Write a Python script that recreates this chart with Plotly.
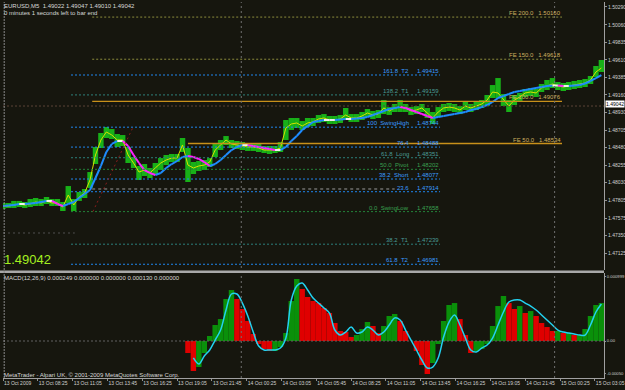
import plotly.graph_objects as go

# ---------------- data ----------------
bar_index = list(range(0, 551, 5))  # M5 bar number counted from 13 Oct 05:45
close = [1.47730, 1.47730, 1.47743, 1.47756, 1.47743, 1.47756, 1.47782, 1.47769, 1.47795, 1.47769,
         1.47769, 1.47717, 1.47872, 1.47743, 1.47846, 1.47897, 1.48065, 1.48386, 1.48579, 1.48682,
         1.48643, 1.48579, 1.48579, 1.48386, 1.48283, 1.48167, 1.48193, 1.48155, 1.48219, 1.48283,
         1.48322, 1.48347, 1.48347, 1.48515, 1.48257, 1.48219, 1.48245, 1.48257, 1.48296, 1.48450,
         1.48515, 1.48579, 1.48528, 1.48515, 1.48502, 1.48489, 1.48489, 1.48476, 1.48450, 1.48450,
         1.48450, 1.48476, 1.48733, 1.48785, 1.48798, 1.48759, 1.48798, 1.48811, 1.48849, 1.48862,
         1.48836, 1.48836, 1.48849, 1.48901, 1.48862, 1.48862, 1.48888, 1.48926, 1.48901, 1.48913,
         1.48991, 1.48952, 1.48991, 1.49003, 1.48991, 1.48952, 1.48965, 1.48991, 1.48926, 1.48862,
         1.48939, 1.48991, 1.49003, 1.48991, 1.48965, 1.49016, 1.48991, 1.49016, 1.49042, 1.49093,
         1.49196, 1.49184, 1.49093, 1.49016, 1.49093, 1.49132, 1.49184, 1.49196, 1.49184, 1.49248,
         1.49274, 1.49299, 1.49274, 1.49261, 1.49274, 1.49286, 1.49299, 1.49312, 1.49351, 1.49454,
         1.49505]
high = [1.47769, 1.47769, 1.47795, 1.47795, 1.47782, 1.47820, 1.47833, 1.47820, 1.47846, 1.47820,
        1.47820, 1.47782, 1.47987, 1.47820, 1.47910, 1.47949, 1.48167, 1.48489, 1.48669, 1.48746,
        1.48720, 1.48656, 1.48643, 1.48489, 1.48360, 1.48245, 1.48270, 1.48219, 1.48283, 1.48347,
        1.48386, 1.48399, 1.48399, 1.48605, 1.48476, 1.48296, 1.48309, 1.48322, 1.48347, 1.48540,
        1.48579, 1.48630, 1.48579, 1.48566, 1.48553, 1.48540, 1.48540, 1.48528, 1.48502, 1.48502,
        1.48502, 1.48553, 1.48836, 1.48862, 1.48862, 1.48823, 1.48862, 1.48862, 1.48901, 1.48913,
        1.48888, 1.48888, 1.48901, 1.48991, 1.48913, 1.48913, 1.48939, 1.48978, 1.48952, 1.48965,
        1.49093, 1.49003, 1.49042, 1.49093, 1.49042, 1.49003, 1.49016, 1.49042, 1.48991, 1.48939,
        1.49003, 1.49042, 1.49055, 1.49042, 1.49016, 1.49068, 1.49042, 1.49068, 1.49093, 1.49158,
        1.49286, 1.49376, 1.49171, 1.49093, 1.49158, 1.49184, 1.49235, 1.49248, 1.49235, 1.49299,
        1.49351, 1.49376, 1.49325, 1.49312, 1.49325, 1.49338, 1.49351, 1.49364, 1.49402, 1.49531,
        1.49608]
low = [1.47692, 1.47705, 1.47705, 1.47717, 1.47705, 1.47717, 1.47730, 1.47730, 1.47756, 1.47730,
       1.47730, 1.47666, 1.47769, 1.47666, 1.47795, 1.47833, 1.47962, 1.48270, 1.48476, 1.48605,
       1.48592, 1.48489, 1.48502, 1.48283, 1.48219, 1.48065, 1.48116, 1.48090, 1.48142, 1.48193,
       1.48257, 1.48296, 1.48296, 1.48425, 1.48039, 1.48142, 1.48180, 1.48193, 1.48232, 1.48360,
       1.48450, 1.48515, 1.48476, 1.48463, 1.48450, 1.48438, 1.48438, 1.48425, 1.48412, 1.48399,
       1.48412, 1.48425, 1.48579, 1.48708, 1.48733, 1.48708, 1.48746, 1.48759, 1.48798, 1.48811,
       1.48785, 1.48785, 1.48798, 1.48836, 1.48811, 1.48811, 1.48836, 1.48875, 1.48849, 1.48862,
       1.48913, 1.48901, 1.48939, 1.48939, 1.48939, 1.48901, 1.48913, 1.48939, 1.48862, 1.48785,
       1.48875, 1.48939, 1.48952, 1.48939, 1.48913, 1.48965, 1.48939, 1.48965, 1.48991, 1.49016,
       1.49119, 1.49119, 1.49016, 1.48939, 1.49029, 1.49081, 1.49132, 1.49145, 1.49132, 1.49196,
       1.49222, 1.49248, 1.49222, 1.49209, 1.49222, 1.49235, 1.49248, 1.49261, 1.49299, 1.49389,
       1.49454]
slow_ma = [1.47730, 1.47736, 1.47743, 1.47756, 1.47756, 1.47762, 1.47769, 1.47782, 1.47795, 1.47795,
           1.47756, 1.47730, 1.47756, 1.47782, 1.47833, 1.47885, 1.47936, 1.48090, 1.48245, 1.48425,
           1.48528, 1.48566, 1.48566, 1.48502, 1.48386, 1.48283, 1.48193, 1.48155, 1.48129, 1.48155,
           1.48219, 1.48270, 1.48309, 1.48360, 1.48373, 1.48360, 1.48335, 1.48296, 1.48245, 1.48270,
           1.48322, 1.48386, 1.48450, 1.48489, 1.48515, 1.48515, 1.48502, 1.48489, 1.48476, 1.48463,
           1.48450, 1.48450, 1.48489, 1.48566, 1.48630, 1.48708, 1.48759, 1.48811, 1.48823, 1.48836,
           1.48836, 1.48836, 1.48843, 1.48849, 1.48849, 1.48856, 1.48862, 1.48875, 1.48901, 1.48926,
           1.48952, 1.48978, 1.48991, 1.49003, 1.48991, 1.48965, 1.48939, 1.48913, 1.48888, 1.48862,
           1.48875, 1.48888, 1.48901, 1.48913, 1.48926, 1.48939, 1.48965, 1.48978, 1.49003, 1.49029,
           1.49068, 1.49119, 1.49145, 1.49171, 1.49196, 1.49209, 1.49222, 1.49235, 1.49248, 1.49261,
           1.49274, 1.49280, 1.49280, 1.49274, 1.49274, 1.49280, 1.49286, 1.49306, 1.49338, 1.49376,
           1.49415]

macd_index = list(range(170, 551, 5))
macd_hist = [-0.000185, -0.000461, -0.000400, -0.000185, 0.000077, 0.000246, 0.000338, 0.000646, 0.000784, 0.000646,
             0.000492, 0.000308, 0.000108, -0.000046, -0.000123, -0.000154, -0.000154, -0.000092, 0.000123, 0.000615,
             0.000954, 0.000800, 0.000677, 0.000615, 0.000584, 0.000508, 0.000431, 0.000277, 0.000154, 0.000138,
             0.000062, 0.000092, 0.000185, 0.000292, 0.000231, 0.000123, 0.000231, 0.000385, 0.000415, 0.000308,
             0.000154, 0.0, -0.000154, -0.000369, -0.000508, -0.000338, -0.000046, 0.000308, 0.000554, 0.000584,
             0.000338, 0.000092, -0.000185, -0.000154, -0.000123, -0.000046, 0.000231, 0.000538, 0.000692, 0.000584,
             0.000492, 0.000538, 0.000431, 0.000461, 0.000385, 0.000277, 0.000215, 0.000154, 0.000154, 0.000123,
             0.000123, 0.000092, 0.000092, 0.000185, 0.000385, 0.000554, 0.000584]
signal_index = list(range(175, 551, 5))
macd_signal = [-0.000261, -0.000354, -0.000231, -0.000138, 0.000015, 0.000169, 0.000477, 0.000723, 0.000723, 0.000584,
               0.000385, 0.000138, -0.000077, -0.000138, -0.000138, -0.000138, -0.000108, 0.000046, 0.000631, 0.000846,
               0.000892, 0.000784, 0.000661, 0.000584, 0.000508, 0.000431, 0.000169, 0.000092, 0.000138, 0.000215,
               0.000123, 0.000138, 0.000215, 0.000169, 0.000092, 0.000138, 0.000246, 0.000354, 0.000323, 0.000169,
               0.000015, -0.000138, -0.000292, -0.000415, -0.000400, -0.000261, 0.000062, 0.000292, 0.000400, 0.000246,
               0.000046, -0.000138, -0.000169, -0.000108, -0.000062, 0.000046, 0.000246, 0.000446, 0.000600, 0.000631,
               0.000631, 0.000584, 0.000538, 0.000477, 0.000400, 0.000323, 0.000246, 0.000169, 0.000138, 0.000123,
               0.000108, 0.000092, 0.000092, 0.000246, 0.000446, 0.000569]

fib_names = ["161.8  T2", "138.2  T1", "100  SwingHigh", "76.4", "61.8  Long", "50.0  Pivot",
             "38.2  Short", "23.6", "0.0  SwingLow", "38.2  T1", "61.8  T2"]
fib_values = [1.49415, 1.49159, 1.48744, 1.48488, 1.48351, 1.48202,
              1.48077, 1.47914, 1.47658, 1.47239, 1.46981]
fe_names = ["FE 200.0", "FE 150.0", "FE 100.0", "FE 50.0"]
fe_values = [1.50160, 1.49618, 1.49076, 1.48534]
trend_values = [1.47658, 1.48744]     # swing low -> swing high
current_price = 1.49042

price_tick_values = [1.50290, 1.50060, 1.49835, 1.49610, 1.49385, 1.49160, 1.48930, 1.48705,
                     1.48480, 1.48255, 1.48030, 1.47805, 1.47575, 1.47350, 1.47125, 1.46900]
time_tick_bars = list(range(0, 545, 32))
time_tick_labels = ["13 Oct 2009", "13 Oct 08:25", "13 Oct 11:05", "13 Oct 13:45", "13 Oct 16:25",
                    "13 Oct 19:05", "13 Oct 21:45", "14 Oct 00:25", "14 Oct 03:05", "14 Oct 05:45",
                    "14 Oct 08:25", "14 Oct 11:05", "14 Oct 13:45", "14 Oct 16:25", "14 Oct 19:05",
                    "14 Oct 21:45", "15 Oct 00:25", "15 Oct 03:05"]
day_separator_bars = [219, 507]
macd_tick_values = [0.000999, 0.0, -0.0005]
macd_tick_labels = ["0.000999", "0.00", "-0.00050"]

# ---------------- style ----------------
BG = "#16160e"
FONT = "Liberation Sans"
W, H = 625, 390
ML, MR, MT, MB = 3, 21, 2, 12
X_RANGE = [0, 552.4]
Y_RANGE = [1.46907, 1.50354]
M_RANGE = [-0.000569, 0.001046]


def px_x(p):
    return (p - ML) / (W - ML - MR)


def px_y(p):
    return (H - MB - p) / (H - MT - MB)


BLUE = "#1f86ee"
TEAL = "#2c7f7a"
GREEN = "#23843a"
fib_styles = [BLUE, TEAL, BLUE, BLUE, TEAL, GREEN, BLUE, BLUE, GREEN, TEAL, BLUE]
fib_text_colors = ["#3a9cff", "#4a9a96", "#3a9cff", "#3a9cff", "#4a9a96", "#3aa050",
                   "#3a9cff", "#3a9cff", "#3aa050", "#4a9a96", "#3a9cff"]
fe_styles = [("#8c8c3c", "2px,2px", 82), ("#8c8c3c", "2px,2px", 82),
             ("#c8901a", "solid", 82), ("#c8901a", "solid", 170)]

fig = go.Figure()

# price bars
fig.add_trace(go.Bar(x=bar_index, base=low, y=[h - l for h, l in zip(high, low)], width=5,
                     marker=dict(color="#18b018", line=dict(width=0)),
                     xaxis="x", yaxis="y", hoverinfo="skip"))
# fast line
fig.add_trace(go.Scatter(x=bar_index, y=close, mode="lines", line=dict(color="#d8e000", width=1),
                         xaxis="x", yaxis="y", hoverinfo="skip"))
# tri-colour slow MA
segs = {}
for k in range(len(bar_index) - 1):
    d = slow_ma[k + 1] - slow_ma[k]
    c = "#1e8cff" if d > 0.00003 else ("#ff20ff" if d < -0.00003 else "#f0f0f0")
    xs, ys = segs.setdefault(c, ([], []))
    xs += [bar_index[k], bar_index[k + 1], None]
    ys += [slow_ma[k], slow_ma[k + 1], None]
for c, (xs, ys) in segs.items():
    fig.add_trace(go.Scatter(x=xs, y=ys, mode="lines", line=dict(color=c, width=2),
                             xaxis="x", yaxis="y", hoverinfo="skip"))

annotations = []
shapes = []
# fibo levels
fib_x0, fib_x1, fib_name_x = 62.5, 401.7, 374
for name, v, col, tcol in zip(fib_names, fib_values, fib_styles, fib_text_colors):
    fig.add_trace(go.Scatter(x=[fib_x0, fib_x1], y=[v, v], mode="lines",
                             line=dict(color=col, width=1, dash="2px,2px"),
                             xaxis="x", yaxis="y", hoverinfo="skip"))
    annotations.append(dict(x=fib_name_x, y=v, xref="x", yref="y", text=name, showarrow=False,
                            xanchor="right", yanchor="bottom", font=dict(family=FONT, size=6, color=tcol),
                            borderpad=0))
    annotations.append(dict(x=fib_x1, y=v, xref="x", yref="y", text=f"{v:.5f}", showarrow=False,
                            xanchor="right", yanchor="bottom", font=dict(family=FONT, size=6, color=tcol),
                            borderpad=0))
# FE levels
fe_x1 = 513.8
for name, v, (col, dash, x0) in zip(fe_names, fe_values, fe_styles):
    fig.add_trace(go.Scatter(x=[x0, fe_x1], y=[v, v], mode="lines",
                             line=dict(color=col, width=1.3 if dash == "solid" else 1, dash=dash),
                             xaxis="x", yaxis="y", hoverinfo="skip"))
    annotations.append(dict(x=fe_x1, y=v, xref="x", yref="y", text=f"{name}   {v:.5f}", showarrow=False,
                            xanchor="right", yanchor="bottom", font=dict(family=FONT, size=6, color="#d0b060"),
                            borderpad=0))
# trend line swing low -> swing high
fig.add_trace(go.Scatter(x=[82.6, 119.5], y=trend_values, mode="lines",
                         line=dict(color="#8a1c1c", width=1, dash="2px,3px"),
                         xaxis="x", yaxis="y", hoverinfo="skip"))
# grey dashed line
fig.add_trace(go.Scatter(x=[82, 360], y=[1.47949, 1.47949], mode="lines",
                         line=dict(color="#9a9a9a", width=1, dash="3px,3px"),
                         xaxis="x", yaxis="y", hoverinfo="skip"))
# bid line
fig.add_trace(go.Scatter(x=X_RANGE, y=[1.49016, 1.49016], mode="lines",
                         line=dict(color="#5c4436", width=1, dash="2px,2px"),
                         xaxis="x", yaxis="y", hoverinfo="skip"))
fig.add_trace(go.Scatter(x=[0, 66], y=[1.47383, 1.47383], mode="lines",
                         line=dict(color="#505050", width=1, dash="2px,3px"),
                         xaxis="x", yaxis="y", hoverinfo="skip"))

# MACD
hist_colors = []
for k, v in enumerate(macd_hist):
    prev = macd_hist[k - 1] if k > 0 else 0
    hist_colors.append("#0a900a" if v >= prev else "#e00000")
fig.add_trace(go.Bar(x=macd_index, y=macd_hist, width=5, marker=dict(color=hist_colors, line=dict(width=0)),
                     xaxis="x", yaxis="y2", hoverinfo="skip"))
fig.add_trace(go.Scatter(x=X_RANGE, y=[0, 0], mode="lines", line=dict(color="#606060", width=1, dash="2px,2px"),
                         xaxis="x", yaxis="y2", hoverinfo="skip"))
fig.add_trace(go.Scatter(x=signal_index, y=macd_signal, mode="lines", line=dict(color="#22d2f0", width=1.5),
                         line_shape="spline", xaxis="x", yaxis="y2", hoverinfo="skip"))

# separators
for b in day_separator_bars:
    shapes.append(dict(type="line", xref="x", yref="paper", x0=b, x1=b, y0=0, y1=1,
                       line=dict(color="#707070", width=1, dash="2px,3px")))
shapes.append(dict(type="rect", xref="paper", yref="paper", x0=-0.01, x1=1, y0=px_y(273), y1=px_y(270.5),
                   fillcolor="#a8a8a8", line=dict(width=0)))
shapes.append(dict(type="line", xref="paper", yref="paper", x0=0.002, x1=0.002, y0=0, y1=1,
                   line=dict(color="#8a8a8a", width=1, dash="2px,1px")))

# texts
txt = dict(family=FONT, size=6, color="#d8d8d8")
annotations += [
    dict(x=px_x(3), y=px_y(2), xref="paper", yref="paper", xanchor="left", yanchor="top", showarrow=False,
         text="EURUSD,M5  1.49022 1.49047 1.49010 1.49042", font=txt, borderpad=0),
    dict(x=px_x(3), y=px_y(9), xref="paper", yref="paper", xanchor="left", yanchor="top", showarrow=False,
         text="0 minutes 1 seconds left to bar end", font=txt, borderpad=0),
    dict(x=px_x(3), y=px_y(273.5), xref="paper", yref="paper", xanchor="left", yanchor="top", showarrow=False,
         text="MACD(12,26,9) 0.000249 0.000000 0.000000 0.000130 0.000000", font=txt, borderpad=0),
    dict(x=px_x(3), y=px_y(379), xref="paper", yref="paper", xanchor="left", yanchor="bottom", showarrow=False,
         text="MetaTrader - Alpari UK, © 2001-2009 MetaQuotes Software Corp.", font=txt, borderpad=0),
    dict(x=px_x(3), y=px_y(268), xref="paper", yref="paper", xanchor="left", yanchor="bottom", showarrow=False,
         text="1.49042", font=dict(family=FONT, size=13, color="#a4f020"), borderpad=0),
    dict(x=1, y=current_price, xref="paper", yref="y", xanchor="left", yanchor="middle", xshift=1, showarrow=False,
         text=f"{current_price:.5f}", font=dict(family=FONT, size=5, color="#000000"), bgcolor="#ffffff",
         borderpad=0),
]

axis_font = dict(family=FONT, size=5, color="#d0d0d0")
fig.update_layout(
    width=W, height=H, margin=dict(l=ML, r=MR, t=MT, b=MB),
    paper_bgcolor=BG, plot_bgcolor=BG, showlegend=False, barmode="overlay",
    template="none",
    xaxis=dict(domain=[0, 1], range=X_RANGE, anchor="y2", tickmode="array", tickvals=time_tick_bars,
               ticktext=time_tick_labels, ticks="outside", ticklen=2, tickcolor="#909090", tickangle=0,
               ticklabelposition="outside right", tickfont=axis_font, showgrid=False, zeroline=False,
               showline=True, linecolor="#a0a0a0", linewidth=1, automargin=False),
    yaxis=dict(domain=[px_y(270), 1], range=Y_RANGE, side="right", tickmode="array",
               tickvals=price_tick_values, ticktext=[f"{v:.5f}" for v in price_tick_values],
               ticks="outside", ticklen=2, tickcolor="#909090", tickfont=axis_font, showgrid=False,
               zeroline=False, showline=True, linecolor="#a0a0a0", linewidth=1, automargin=False),
    yaxis2=dict(domain=[0, px_y(273)], range=M_RANGE, side="right", anchor="x", tickmode="array",
                tickvals=macd_tick_values, ticktext=macd_tick_labels, ticks="outside", ticklen=1,
                tickcolor="#909090", tickfont=dict(family=FONT, size=4.2, color="#d0d0d0"), showgrid=False,
                zeroline=False, showline=True, linecolor="#a0a0a0", linewidth=1, automargin=False),
    annotations=annotations, shapes=shapes,
)
fig.write_html("out.html")
